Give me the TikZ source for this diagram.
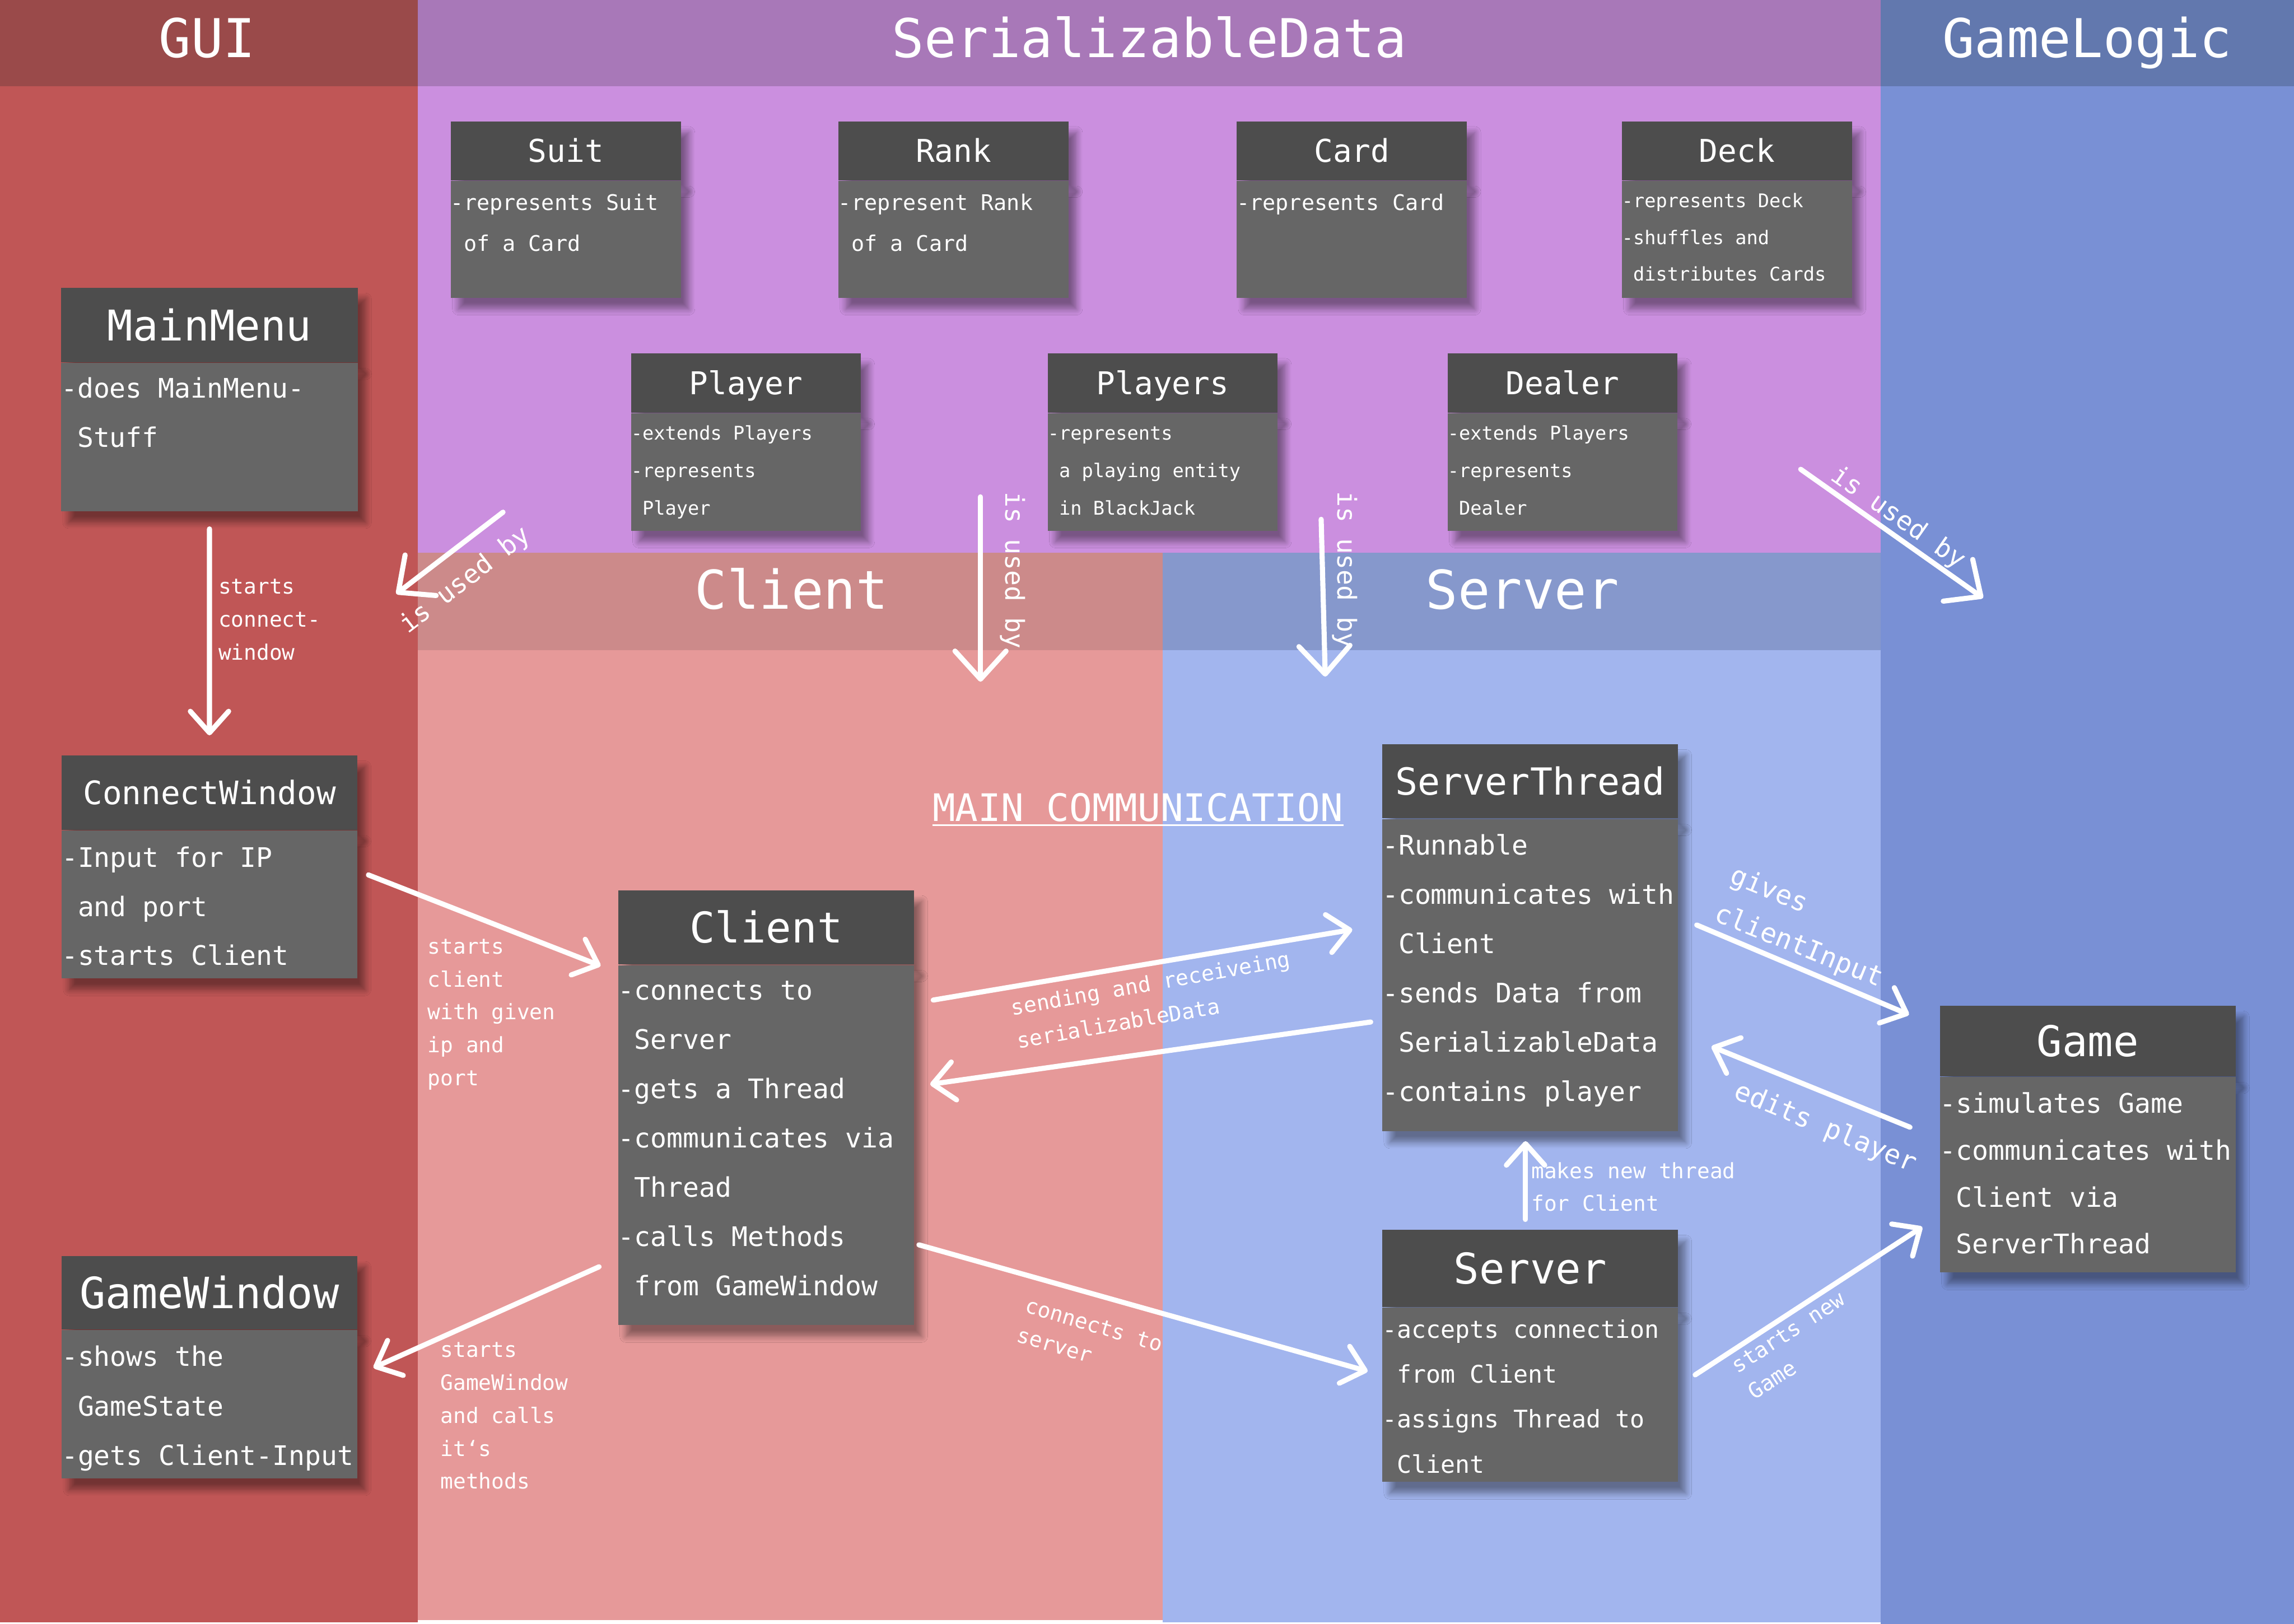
\documentclass[tikz,border=0pt]{standalone}
\usepackage{fontspec}
\setmainfont{DejaVu Sans Mono}
\usetikzlibrary{positioning}
\usetikzlibrary{shadows.blur}
\usetikzlibrary{arrows.meta}

\definecolor{guihead}{HTML}{9A4A4A}
\definecolor{guibody}{HTML}{C05656}
\definecolor{serhead}{HTML}{A878B8}
\definecolor{serbody}{HTML}{CB8FDF}
\definecolor{logichead}{HTML}{6278AE}
\definecolor{logicbody}{HTML}{7990D5}
\definecolor{clienthead}{HTML}{CC8A8A}
\definecolor{clientbody}{HTML}{E69999}
\definecolor{serverhead}{HTML}{8698CC}
\definecolor{serverbody}{HTML}{A2B5EE}
\definecolor{headgray}{HTML}{4D4D4D}
\definecolor{bodygray}{HTML}{666666}

\newcommand{\ftitle}{\fontsize{29.8pt}{36pt}\selectfont}
\newcommand{\fsmalltitle}{\fontsize{17.5pt}{21pt}\selectfont}
\newcommand{\fbigtitle}{\fontsize{23.6pt}{28pt}\selectfont}
\newcommand{\fsuit}{\fontsize{12pt}{0.8cm}\selectfont}
\newcommand{\fdeck}{\fontsize{10.5pt}{0.72cm}\selectfont}
\newcommand{\fplayer}{\fontsize{10.5pt}{0.735cm}\selectfont}
\newcommand{\flabel}{\fontsize{11.8pt}{0.645cm}\selectfont}
\newcommand{\fbiglabel}{\fontsize{15pt}{0.8cm}\selectfont}
\newcommand{\boxlines}[1]{\begin{tabular}[t]{@{}l@{}}#1\end{tabular}}

\tikzset{
  boxshadow/.style={blur shadow={shadow xshift=0.15cm, shadow yshift=-0.22cm, shadow blur radius=0.12cm, shadow blur steps=8, shadow opacity=40}},
  boxhead/.style={fill=headgray, text=white, inner sep=0pt, anchor=north west, text height=#1, text depth=0pt, boxshadow},
  boxbody/.style={fill=bodygray, inner sep=0pt, boxshadow},
  boxtext/.style={text=white, inner sep=0pt, anchor=base west},
  lanetitle/.style={text=white, inner sep=0pt, anchor=base, font=\ftitle},
  note/.style={text=white, inner sep=0pt, anchor=base west, font=\flabel},
  bignote/.style={text=white, inner sep=0pt, anchor=base west, font=\fbiglabel},
  flow/.style={draw=white, line width=0.1cm, line cap=round, -{Straight Barb[length=0.42cm, width=0.75cm, round]}},
  usedby/.style={flow, -{Straight Barb[length=0.55cm, width=1cm, round]}}
}

\begin{document}
\begin{tikzpicture}
\useasboundingbox (0,0) rectangle (44.92,-31.80);
\fill[white] (0,0) rectangle (44.92,-31.80);
\fill[guihead] (0,0) rectangle (8.18,-1.69);
\fill[guibody] (0,-1.69) rectangle (8.18,-31.77);
\fill[serhead] (8.18,0) rectangle (36.83,-1.69);
\fill[serbody] (8.18,-1.69) rectangle (36.83,-10.82);
\fill[logichead] (36.83,0) rectangle (44.92,-1.69);
\fill[logicbody] (36.83,-1.69) rectangle (44.92,-31.80);
\fill[clienthead] (8.18,-10.82) rectangle (22.77,-12.73);
\fill[clientbody] (8.18,-12.73) rectangle (22.77,-31.73);
\fill[serverhead] (22.77,-10.82) rectangle (36.83,-12.73);
\fill[serverbody] (22.77,-12.73) rectangle (36.83,-31.77);

\node (guititle) at (4.06,-1.12) [lanetitle] {GUI};
\node (sertitle) at (22.51,-1.12) [lanetitle] {SerializableData};
\node (logictitle) at (40.87,-1.12) [lanetitle] {GameLogic};
\node (clienttitle) at (15.50,-11.93) [lanetitle] {Client};
\node (servertitle) at (29.81,-11.93) [lanetitle] {Server};

\node (suith) at (8.82,-2.37) [boxhead=12.8pt, minimum width=4.51cm, minimum height=1.15cm, font=\fsmalltitle] {Suit};
\node (suitb) [boxbody, below=0pt of suith, minimum width=4.51cm, minimum height=2.29cm] {};
\node (suitt) at ([yshift=-0.58cm]suitb.north west) [boxtext, font=\fsuit] {\boxlines{-represents Suit\\\phantom{-}of a Card}};

\node (rankh) at (16.41,-2.37) [boxhead=12.8pt, minimum width=4.51cm, minimum height=1.15cm, font=\fsmalltitle] {Rank};
\node (rankb) [boxbody, below=0pt of rankh, minimum width=4.51cm, minimum height=2.29cm] {};
\node (rankt) at ([yshift=-0.58cm]rankb.north west) [boxtext, font=\fsuit] {\boxlines{-represent Rank\\\phantom{-}of a Card}};

\node (cardh) at (24.21,-2.37) [boxhead=12.8pt, minimum width=4.51cm, minimum height=1.15cm, font=\fsmalltitle] {Card};
\node (cardb) [boxbody, below=0pt of cardh, minimum width=4.51cm, minimum height=2.29cm] {};
\node (cardt) at ([yshift=-0.58cm]cardb.north west) [boxtext, font=\fsuit] {\boxlines{-represents Card}};

\node (deckh) at (31.75,-2.37) [boxhead=12.8pt, minimum width=4.51cm, minimum height=1.15cm, font=\fsmalltitle] {Deck};
\node (deckb) [boxbody, below=0pt of deckh, minimum width=4.51cm, minimum height=2.29cm] {};
\node (deckt) at ([yshift=-0.53cm]deckb.north west) [boxtext, font=\fdeck] {\boxlines{-represents Deck\\-shuffles and\\\phantom{-}distributes Cards}};

\node (playerh) at (12.35,-6.91) [boxhead=12.8pt, minimum width=4.50cm, minimum height=1.16cm, font=\fsmalltitle] {Player};
\node (playerb) [boxbody, below=0pt of playerh, minimum width=4.50cm, minimum height=2.30cm] {};
\node (playert) at ([yshift=-0.53cm]playerb.north west) [boxtext, font=\fplayer] {\boxlines{-extends Players\\-represents\\\phantom{-}Player}};

\node (playersh) at (20.51,-6.91) [boxhead=12.8pt, minimum width=4.50cm, minimum height=1.16cm, font=\fsmalltitle] {Players};
\node (playersb) [boxbody, below=0pt of playersh, minimum width=4.50cm, minimum height=2.30cm] {};
\node (playerst) at ([yshift=-0.53cm]playersb.north west) [boxtext, font=\fplayer] {\boxlines{-represents\\\phantom{-}a playing entity\\\phantom{-}in BlackJack}};

\node (dealerh) at (28.34,-6.91) [boxhead=12.8pt, minimum width=4.50cm, minimum height=1.16cm, font=\fsmalltitle] {Dealer};
\node (dealerb) [boxbody, below=0pt of dealerh, minimum width=4.50cm, minimum height=2.30cm] {};
\node (dealert) at ([yshift=-0.53cm]dealerb.north west) [boxtext, font=\fplayer] {\boxlines{-extends Players\\-represents\\\phantom{-}Dealer}};

\node (mainmenuh) at (1.19,-5.63) [boxhead=17.2pt, minimum width=5.81cm, minimum height=1.46cm, font=\fbigtitle] {MainMenu};
\node (mainmenub) [boxbody, below=0pt of mainmenuh, minimum width=5.81cm, minimum height=2.90cm] {};
\node (mainmenut) at ([yshift=-0.69cm]mainmenub.north west) [boxtext, font=\fontsize{15pt}{0.96cm}\selectfont] {\boxlines{-does MainMenu-\\\phantom{-}Stuff}};

\node (connecth) at (1.20,-14.79) [boxhead=13.1pt, minimum width=5.79cm, minimum height=1.45cm, font=\fontsize{18pt}{22pt}\selectfont] {ConnectWindow};
\node (connectb) [boxbody, below=0pt of connecth, minimum width=5.79cm, minimum height=2.90cm] {};
\node (connectt) at ([yshift=-0.73cm]connectb.north west) [boxtext, font=\fontsize{15pt}{0.96cm}\selectfont] {\boxlines{-Input for IP\\\phantom{-}and port\\-starts Client}};

\node (gamewinh) at (1.20,-24.59) [boxhead=17.5pt, minimum width=5.79cm, minimum height=1.44cm, font=\fontsize{24pt}{28pt}\selectfont] {GameWindow};
\node (gamewinb) [boxbody, below=0pt of gamewinh, minimum width=5.79cm, minimum height=2.90cm] {};
\node (gamewint) at ([yshift=-0.71cm]gamewinb.north west) [boxtext, font=\fontsize{15pt}{0.97cm}\selectfont] {\boxlines{-shows the\\\phantom{-}GameState\\-gets Client-Input}};

\node (clienth) at (12.10,-17.43) [boxhead=17.2pt, minimum width=5.79cm, minimum height=1.45cm, font=\fbigtitle] {Client};
\node (clientb) [boxbody, below=0pt of clienth, minimum width=5.79cm, minimum height=7.05cm] {};
\node (clientt) at ([yshift=-0.69cm]clientb.north west) [boxtext, font=\fontsize{15pt}{0.965cm}\selectfont] {\boxlines{-connects to\\\phantom{-}Server\\-gets a Thread\\-communicates via\\\phantom{-}Thread\\-calls Methods\\\phantom{-}from GameWindow}};

\node (threadh) at (27.06,-14.57) [boxhead=15.2pt, minimum width=5.79cm, minimum height=1.45cm, font=\fontsize{20.8pt}{25pt}\selectfont] {ServerThread};
\node (threadb) [boxbody, below=0pt of threadh, minimum width=5.79cm, minimum height=6.11cm] {};
\node (threadt) at ([yshift=-0.71cm]threadb.north west) [boxtext, font=\fontsize{15pt}{0.965cm}\selectfont] {\boxlines{-Runnable\\-communicates with\\\phantom{-}Client\\-sends Data from\\\phantom{-}SerializableData\\-contains player}};

\node (serverh) at (27.06,-24.08) [boxhead=17.2pt, minimum width=5.79cm, minimum height=1.51cm, font=\fbigtitle] {Server};
\node (serverb) [boxbody, below=0pt of serverh, minimum width=5.79cm, minimum height=3.41cm] {};
\node (servert) at ([yshift=-0.60cm]serverb.north west) [boxtext, font=\fontsize{13.5pt}{0.88cm}\selectfont] {\boxlines{-accepts connection\\\phantom{-}from Client\\-assigns Thread to\\\phantom{-}Client}};

\node (gameh) at (37.98,-19.69) [boxhead=17.2pt, minimum width=5.79cm, minimum height=1.38cm, font=\fbigtitle] {Game};
\node (gameb) [boxbody, below=0pt of gameh, minimum width=5.79cm, minimum height=3.83cm] {};
\node (gamet) at ([yshift=-0.71cm]gameb.north west) [boxtext, font=\fontsize{15pt}{0.92cm}\selectfont] {\boxlines{-simulates Game\\-communicates with\\\phantom{-}Client via\\\phantom{-}ServerThread}};

\node (maincomm) at (22.28,-16.08) [lanetitle, font=\fontsize{21.1pt}{25pt}\selectfont] {MAIN COMMUNICATION};
\draw[white, line width=0.04cm] ([yshift=-0.08cm]maincomm.base west) -- ([yshift=-0.08cm]maincomm.base east);

\draw [flow, shorten <=0.34cm, shorten >=0.39cm] (mainmenub.south) -- (connecth.north);
\draw [flow] ([shift={(0.21,-0.88)}]connectb.north east) -- ([shift={(-0.34,-0.02)}]clienth.south west);
\draw [flow] ([shift={(-0.37,1.15)}]clientb.south west) -- ([shift={(0.31,-0.74)}]gamewinb.north east);
\draw [flow] ([shift={(0.37,-0.69)}]clientb.north east) -- ([shift={(-0.58,-2.17)}]threadb.north west);
\draw [flow] ([shift={(-0.22,-3.98)}]threadb.north west) -- ([shift={(0.31,-2.34)}]clientb.north east);
\draw [flow] ([shift={(0.09,1.58)}]clientb.south east) -- ([shift={(-0.28,-1.25)}]serverb.north west);
\draw [flow, shorten <=0.2cm, shorten >=0.19cm] ([xshift=-0.09cm]serverh.north) -- ([xshift=-0.09cm]threadb.south);
\draw [flow] ([shift={(0.36,-2.08)}]threadb.north east) -- ([shift={(-0.60,-0.18)}]gameh.north west);
\draw [flow] ([shift={(-0.58,-0.99)}]gameb.north west) -- ([shift={(0.65,-4.46)}]threadb.north east);
\draw [flow] ([shift={(0.33,-1.32)}]serverb.north east) -- ([shift={(-0.34,0.90)}]gameb.south west);

\coordinate (usedgui) at (9.85,-10.03);
\coordinate (usedguiend) at (7.76,-11.63);
\coordinate (usedclient) at (19.20,-9.73);
\coordinate (usedclientend) at (19.20,-13.35);
\coordinate (usedserver) at (25.87,-10.17);
\coordinate (usedserverend) at (25.95,-13.25);
\coordinate (usedgame) at (35.26,-9.19);
\coordinate (usedgameend) at (38.83,-11.71);
\draw [usedby] (usedgui) -- (usedguiend);
\draw [usedby] (usedclient) -- (usedclientend);
\draw [usedby] (usedserver) -- (usedserverend);
\draw [usedby] (usedgame) -- (usedgameend);

\node (usedguil) at (7.98,-12.42) [bignote, rotate=37.5, font=\fontsize{14.5pt}{17pt}\selectfont] {is used by};
\node (usedclientl) at (19.69,-9.63) [bignote, rotate=-90, font=\fontsize{14.5pt}{17pt}\selectfont] {is used by};
\node (usedserverl) at (26.19,-9.62) [bignote, rotate=-90, font=\fontsize{14.5pt}{17pt}\selectfont] {is used by};
\node (usedgamel) at (35.82,-9.38) [bignote, rotate=-35, font=\fontsize{14.5pt}{17pt}\selectfont] {is used by};

\node (startscw) at (4.27,-11.63) [note] {\boxlines{starts\\connect-\\window}};
\node (startsclient) at (8.37,-18.68) [note] {\boxlines{starts\\client\\with given\\ip and\\port}};
\node (startsgw) at (8.62,-26.58) [note] {\boxlines{starts\\GameWindow\\and calls\\it‘s\\methods}};
\node (sending) at (19.82,-19.89) [note, rotate=10, font=\fontsize{11.9pt}{0.66cm}\selectfont] {\boxlines{sending and receiveing\\serializableData}};
\node (connects) at (20.05,-25.69) [note, rotate=-16.5, font=\fontsize{11.9pt}{0.6cm}\selectfont] {\boxlines{connects to\\server}};
\node (makes) at (29.98,-23.08) [note, font=\fontsize{11.8pt}{0.63cm}\selectfont] {\boxlines{makes new thread\\for Client}};
\node (gives) at (33.84,-17.28) [bignote, rotate=-22] {\boxlines{gives\\clientInput}};
\node (edits) at (33.92,-21.50) [bignote, rotate=-22.5] {edits player};
\node (startsgame) at (34.02,-26.91) [note, rotate=33, font=\fontsize{12pt}{0.61cm}\selectfont] {\boxlines{starts new\\Game}};
\end{tikzpicture}
\end{document}
